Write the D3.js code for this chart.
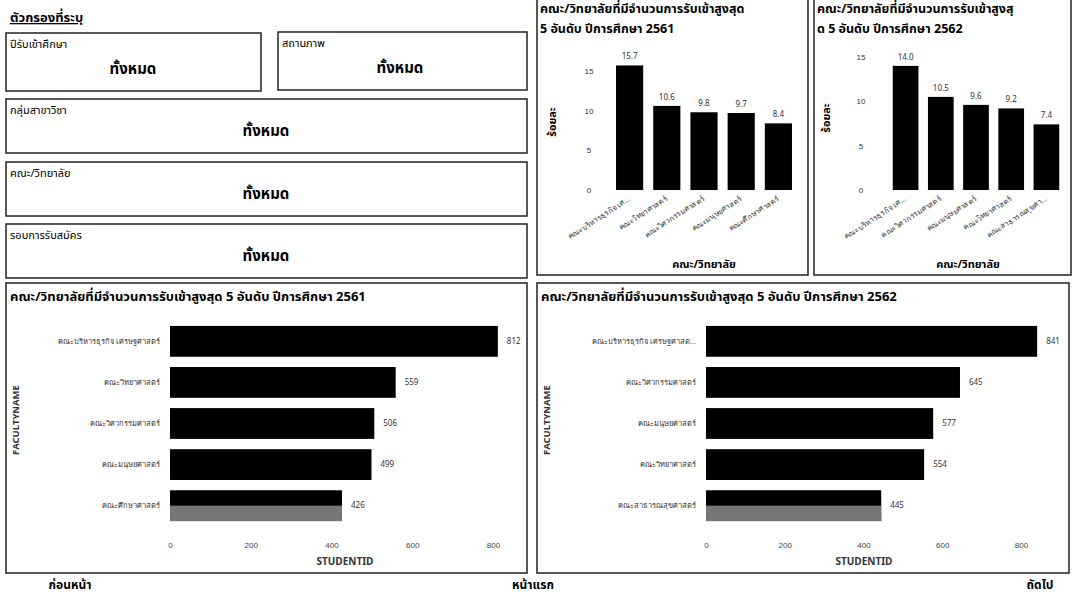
<!DOCTYPE html>
<html>
<head>
<meta charset="utf-8">
<script src="https://cdn.jsdelivr.net/npm/d3@7"></script>
<style>
  body { margin: 0; background: #fff; }
  svg { display: block; font-family: Tahoma, "Noto Sans Thai", "Noto Sans", sans-serif; }
</style>
</head>
<body>
<div class="chart"></div>
<script>
// data
var faculties2561 = ["คณะบริหารธุรกิจ เศรษฐศาสตร์", "คณะวิทยาศาสตร์", "คณะวิศวกรรมศาสตร์", "คณะมนุษยศาสตร์", "คณะศึกษาศาสตร์"];
var shortNames2561 = ["คณะบริหารธุรกิจ เศ...", "คณะวิทยาศาสตร์", "คณะวิศวกรรมศาสตร์", "คณะมนุษยศาสตร์", "คณะศึกษาศาสตร์"];
var students2561 = [812, 559, 506, 499, 426];
var percent2561 = [15.7, 10.6, 9.8, 9.7, 8.4];

var faculties2562 = ["คณะบริหารธุรกิจ เศรษฐศาสต...", "คณะวิศวกรรมศาสตร์", "คณะมนุษยศาสตร์", "คณะวิทยาศาสตร์", "คณะสาธารณสุขศาสตร์"];
var shortNames2562 = ["คณะบริหารธุรกิจ เศ...", "คณะวิศวกรรมศาสตร์", "คณะมนุษยศาสตร์", "คณะวิทยาศาสตร์", "คณะสาธารณสุขศา..."];
var students2562 = [841, 645, 577, 554, 445];
var percent2562 = [14.0, 10.5, 9.6, 9.2, 7.4];

var percentTicks = [0, 5, 10, 15];
var studentTicks = [0, 200, 400, 600, 800];

var filters = [
  { label: "ปีรับเข้าศึกษา", value: "ทั้งหมด" },
  { label: "สถานภาพ", value: "ทั้งหมด" },
  { label: "กลุ่มสาขาวิชา", value: "ทั้งหมด" },
  { label: "คณะ/วิทยาลัย", value: "ทั้งหมด" },
  { label: "รอบการรับสมัคร", value: "ทั้งหมด" }
];

var svgWidth = 1073;
var svgHeight = 603;

var svg = d3.select(".chart")
  .append("svg")
  .attr("width", svgWidth)
  .attr("height", svgHeight);

// ---------- filter panel ----------
svg.append("text")
  .attr("x", 10)
  .attr("y", 22)
  .attr("font-size", 13)
  .attr("font-weight", "bold")
  .attr("text-decoration", "underline")
  .text("ตัวกรองที่ระบุ");

var filterBoxes = [
  { x: 6, y: 33, w: 255, h: 58, cx: 133 },
  { x: 278, y: 32, w: 249, h: 58, cx: 400 },
  { x: 6, y: 99, w: 521, h: 54, cx: 266 },
  { x: 6, y: 162, w: 521, h: 54, cx: 266 },
  { x: 6, y: 224, w: 521, h: 54, cx: 266 }
];

filterBoxes.forEach(function(b, i) {
  var g = svg.append("g").attr("transform", `translate(${b.x}, ${b.y})`);
  g.append("rect")
    .attr("width", b.w)
    .attr("height", b.h)
    .attr("fill", "none")
    .attr("stroke", "#222")
    .attr("stroke-width", 1.5);
  g.append("text")
    .attr("x", 4)
    .attr("y", 15)
    .attr("font-size", 11)
    .text(filters[i].label);
  g.append("text")
    .attr("x", b.cx - b.x)
    .attr("y", b.h - 17)
    .attr("text-anchor", "middle")
    .attr("font-size", 15)
    .attr("font-weight", "bold")
    .text(filters[i].value);
});

// ---------- small column charts ----------
function columnChart(opts) {
  var g = svg.append("g");

  g.append("path")
    .attr("d", `M${opts.left},0 V${opts.bottom} H${opts.right} V0`)
    .attr("fill", "none")
    .attr("stroke", "#222")
    .attr("stroke-width", 1.5);

  opts.title.forEach(function(line, i) {
    g.append("text")
      .attr("x", opts.left + 3)
      .attr("y", 13 + i * 20)
      .attr("font-size", 12.5)
      .attr("font-weight", "bold")
      .text(line);
  });

  var x = d3.scaleBand()
    .domain(opts.names)
    .range(opts.xRange)
    .paddingInner(0.27)
    .paddingOuter(0.135);

  var y = d3.scaleLinear()
    .domain([0, 15])
    .range(opts.yRange);

  var leftAxis = d3.axisLeft(y).tickValues(percentTicks).tickSize(0).tickPadding(0);
  var yAxis = g.append("g")
    .attr("transform", `translate(${opts.tickX}, 0)`)
    .call(leftAxis);
  yAxis.select(".domain").remove();
  yAxis.selectAll("text")
    .attr("font-size", 8)
    .attr("fill", "#333")
    .attr("text-anchor", "middle")
    .attr("font-family", "inherit");

  g.selectAll(".col")
    .data(opts.values)
    .enter()
    .append("rect")
    .attr("x", (d, i) => x(opts.names[i]))
    .attr("y", d => y(d))
    .attr("width", x.bandwidth())
    .attr("height", d => y(0) - y(d))
    .attr("fill", "#000");

  g.selectAll(".val")
    .data(opts.values)
    .enter()
    .append("text")
    .attr("x", (d, i) => x(opts.names[i]) + x.bandwidth() / 2)
    .attr("y", d => y(d) - 6)
    .attr("text-anchor", "middle")
    .attr("font-size", 8)
    .attr("fill", "#333")
    .text(d => d.toFixed(1));

  var bottomAxis = d3.axisBottom(x).tickSize(0).tickPadding(0);
  var xAxis = g.append("g")
    .attr("transform", `translate(0, ${opts.yRange[0] + 8})`)
    .call(bottomAxis);
  xAxis.select(".domain").remove();
  xAxis.selectAll("text")
    .attr("font-size", 7.5)
    .attr("fill", "#333")
    .attr("font-family", "inherit")
    .attr("text-anchor", "end")
    .attr("dy", "0.3em")
    .attr("transform", "rotate(-33)");

  g.append("text")
    .attr("transform", `translate(${opts.yLabelX}, ${opts.yLabelY}) rotate(-90)`)
    .attr("text-anchor", "middle")
    .attr("font-size", 11)
    .attr("font-weight", "bold")
    .text("ร้อยละ");

  g.append("text")
    .attr("x", opts.xLabelX)
    .attr("y", 268)
    .attr("text-anchor", "middle")
    .attr("font-size", 11)
    .attr("font-weight", "bold")
    .text("คณะ/วิทยาลัย");
}

columnChart({
  left: 537, right: 808, bottom: 275,
  title: ["คณะ/วิทยาลัยที่มีจำนวนการรับเข้าสูงสุด", "5 อันดับ ปีการศึกษา 2561"],
  names: shortNames2561, values: percent2561,
  xRange: [611, 797], yRange: [190, 71],
  tickX: 589, yLabelX: 556, yLabelY: 122, xLabelX: 704
});

columnChart({
  left: 814, right: 1071, bottom: 275,
  title: ["คณะ/วิทยาลัยที่มีจำนวนการรับเข้าสูงสุ", "ด 5 อันดับ ปีการศึกษา 2562"],
  names: shortNames2562, values: percent2562,
  xRange: [888, 1064], yRange: [190, 57],
  tickX: 861, yLabelX: 830, yLabelY: 118, xLabelX: 968
});

// ---------- horizontal bar charts ----------
function barChart(opts) {
  var g = svg.append("g");

  g.append("rect")
    .attr("x", opts.left)
    .attr("y", 283)
    .attr("width", opts.right - opts.left)
    .attr("height", 290)
    .attr("fill", "none")
    .attr("stroke", "#222")
    .attr("stroke-width", 1.5);

  g.append("text")
    .attr("x", opts.left + 4)
    .attr("y", 301)
    .attr("font-size", 13)
    .attr("font-weight", "bold")
    .text(opts.title);

  var y = d3.scaleBand()
    .domain(opts.names)
    .range([321, 526])
    .paddingInner(0.25)
    .paddingOuter(0.12);

  var x = d3.scaleLinear()
    .domain([0, 800])
    .range(opts.xRange);

  g.selectAll(".bar")
    .data(opts.values)
    .enter()
    .append("rect")
    .attr("x", x(0))
    .attr("y", (d, i) => y(opts.names[i]))
    .attr("width", d => x(d) - x(0))
    .attr("height", y.bandwidth())
    .attr("fill", "#000");

  // the last bar shows a grey lower half in the picture
  var last = opts.values.length - 1;
  g.append("rect")
    .attr("x", x(0))
    .attr("y", y(opts.names[last]) + y.bandwidth() / 2)
    .attr("width", x(opts.values[last]) - x(0))
    .attr("height", y.bandwidth() / 2)
    .attr("fill", "#777");

  g.selectAll(".val")
    .data(opts.values)
    .enter()
    .append("text")
    .attr("x", d => x(d) + 9)
    .attr("y", (d, i) => y(opts.names[i]) + y.bandwidth() / 2)
    .attr("dy", "0.35em")
    .attr("font-size", 8)
    .attr("fill", "#333")
    .text(d => d);

  var leftAxis = d3.axisLeft(y).tickSize(0).tickPadding(10);
  var yAxis = g.append("g")
    .attr("transform", `translate(${x(0)}, 0)`)
    .call(leftAxis);
  yAxis.select(".domain").remove();
  yAxis.selectAll("text")
    .attr("font-size", 7.5)
    .attr("fill", "#333")
    .attr("font-family", "inherit");

  var bottomAxis = d3.axisBottom(x).tickValues(studentTicks).tickSize(0).tickPadding(0);
  var xAxis = g.append("g")
    .attr("transform", `translate(0, 542)`)
    .call(bottomAxis);
  xAxis.select(".domain").remove();
  xAxis.selectAll("text")
    .attr("font-size", 8)
    .attr("fill", "#444")
    .attr("font-family", "inherit");

  g.append("text")
    .attr("x", opts.xLabelX)
    .attr("y", 565)
    .attr("text-anchor", "middle")
    .attr("font-size", 10)
    .attr("font-weight", "bold")
    .attr("fill", "#333")
    .text("STUDENTID");

  g.append("text")
    .attr("transform", `translate(${opts.left + 13}, 420) rotate(-90)`)
    .attr("text-anchor", "middle")
    .attr("font-size", 9.5)
    .attr("font-weight", "bold")
    .attr("fill", "#333")
    .text("FACULTYNAME");
}

barChart({
  left: 6, right: 527,
  title: "คณะ/วิทยาลัยที่มีจำนวนการรับเข้าสูงสุด 5 อันดับ ปีการศึกษา 2561",
  names: faculties2561, values: students2561,
  xRange: [170, 493], xLabelX: 345
});

barChart({
  left: 537, right: 1069,
  title: "คณะ/วิทยาลัยที่มีจำนวนการรับเข้าสูงสุด 5 อันดับ ปีการศึกษา 2562",
  names: faculties2562, values: students2562,
  xRange: [706, 1021], xLabelX: 864
});

// ---------- page navigation ----------
var nav = [
  { text: "ก่อนหน้า", x: 70, anchor: "middle" },
  { text: "หน้าแรก", x: 533, anchor: "middle" },
  { text: "ถัดไป", x: 1040, anchor: "middle" }
];
svg.selectAll(".nav")
  .data(nav)
  .enter()
  .append("text")
  .attr("x", d => d.x)
  .attr("y", 589)
  .attr("text-anchor", d => d.anchor)
  .attr("font-size", 12)
  .attr("font-weight", "bold")
  .text(d => d.text);
</script>
</body>
</html>
